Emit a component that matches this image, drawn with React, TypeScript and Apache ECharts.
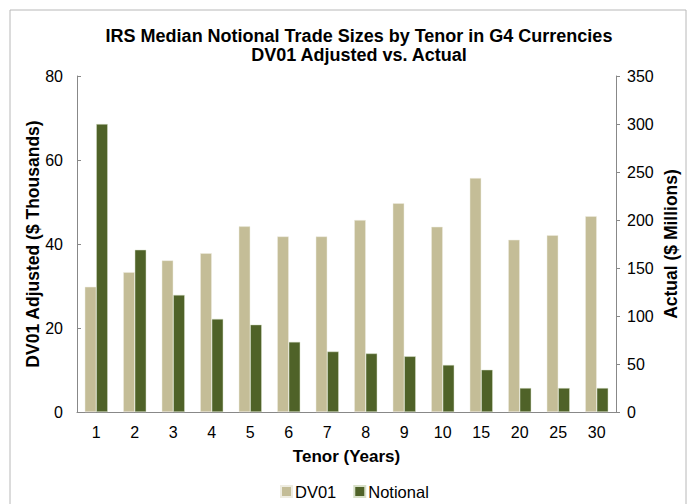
import React, { useEffect, useRef } from "react";
import * as echarts from "echarts";

const tenors = ["1", "2", "3", "4", "5", "6", "7", "8", "9", "10", "15", "20", "25", "30"];
const dv01 = [29.8, 33.3, 36.1, 37.8, 44.2, 41.8, 41.8, 45.7, 49.7, 44.1, 55.7, 41.0, 42.1, 46.6];
const notional = [300, 169, 122, 97, 91, 73, 63, 61, 58, 49, 44, 25, 25, 25];
const leftTicks = { min: 0, max: 80, interval: 20 };
const rightTicks = { min: 0, max: 350, interval: 50 };

const FONT = "Liberation Sans, Arial, sans-serif";

export default function App() {
  const ref = useRef<HTMLDivElement>(null);
  useEffect(() => {
    if (!ref.current) return;
    const chart = echarts.init(ref.current, null, { renderer: "svg" });
    chart.setOption({
      animation: false,
      backgroundColor: "#fff",
      textStyle: { fontFamily: FONT, color: "#000" },
      graphic: [
        {
          type: "rect",
          shape: { x: 10, y: 10, width: 676, height: 510 },
          style: { fill: "none", stroke: "#b8b8b8", lineWidth: 1 },
          silent: true,
        },
      ],
      title: {
        text: "IRS Median Notional Trade Sizes by Tenor in G4 Currencies\nDV01 Adjusted vs. Actual",
        left: 354,
        textAlign: "center",
        top: 21,
        textStyle: { fontFamily: FONT, fontSize: 18, fontWeight: "bold", color: "#000", lineHeight: 19 },
      },
      legend: {
        top: 483,
        left: 280,
        padding: 0,
        itemWidth: 11,
        itemHeight: 11,
        itemGap: 17,
        icon: "rect",
        textStyle: { fontFamily: FONT, fontSize: 16.5, color: "#000", padding: [0, 0, 0, -2] },
        data: ["DV01", "Notional"],
      },
      grid: { left: 77, right: 67, top: 76, bottom: 92 },
      xAxis: {
        type: "category",
        data: tenors,
        name: "Tenor (Years)",
        nameLocation: "middle",
        nameGap: 36,
        nameTextStyle: { fontFamily: FONT, fontSize: 17, fontWeight: "bold", color: "#000" },
        axisLine: { lineStyle: { color: "#888" } },
        axisTick: { inside: true, length: 4, lineStyle: { color: "#888" } },
        axisLabel: { fontFamily: FONT, fontSize: 16, color: "#000", margin: 12 },
      },
      yAxis: [
        {
          type: "value",
          ...leftTicks,
          name: "DV01 Adjusted ($ Thousands)",
          nameLocation: "middle",
          nameGap: 35,
          nameMoveOverlap: false,
          nameRotate: 90,
          nameTextStyle: { fontFamily: FONT, fontSize: 17.5, fontWeight: "bold", color: "#000" },
          axisLine: { show: true, lineStyle: { color: "#888" } },
          axisTick: { show: true, inside: true, length: 4, lineStyle: { color: "#888" } },
          axisLabel: { fontFamily: FONT, fontSize: 16, color: "#000", margin: 14 },
          splitLine: { show: false },
        },
        {
          type: "value",
          ...rightTicks,
          name: "Actual ($ Millions)",
          nameLocation: "middle",
          nameGap: 46,
          nameMoveOverlap: false,
          nameRotate: 90,
          nameTextStyle: { fontFamily: FONT, fontSize: 17.5, fontWeight: "bold", color: "#000" },
          axisLine: { show: true, lineStyle: { color: "#888" } },
          axisTick: { show: true, inside: false, length: 4, lineStyle: { color: "#888" } },
          axisLabel: { fontFamily: FONT, fontSize: 16, color: "#000", margin: 11 },
          splitLine: { show: false },
        },
      ],
      series: [
        {
          name: "DV01",
          type: "bar",
          yAxisIndex: 0,
          data: dv01,
          barWidth: 11.5,
          barGap: "0%",
          itemStyle: { color: "#C4BD97", borderColor: "#EEECE1", borderWidth: 0.5 },
        },
        {
          name: "Notional",
          type: "bar",
          yAxisIndex: 1,
          data: notional,
          barWidth: 11.5,
          barGap: "0%",
          itemStyle: { color: "#4F6228", borderColor: "#D8E0C8", borderWidth: 0.5 },
        },
      ],
    });
    return () => chart.dispose();
  }, []);
  return <div ref={ref} style={{ width: 688, height: 504, position: "absolute", left: 0, top: 0 }} />;
}
